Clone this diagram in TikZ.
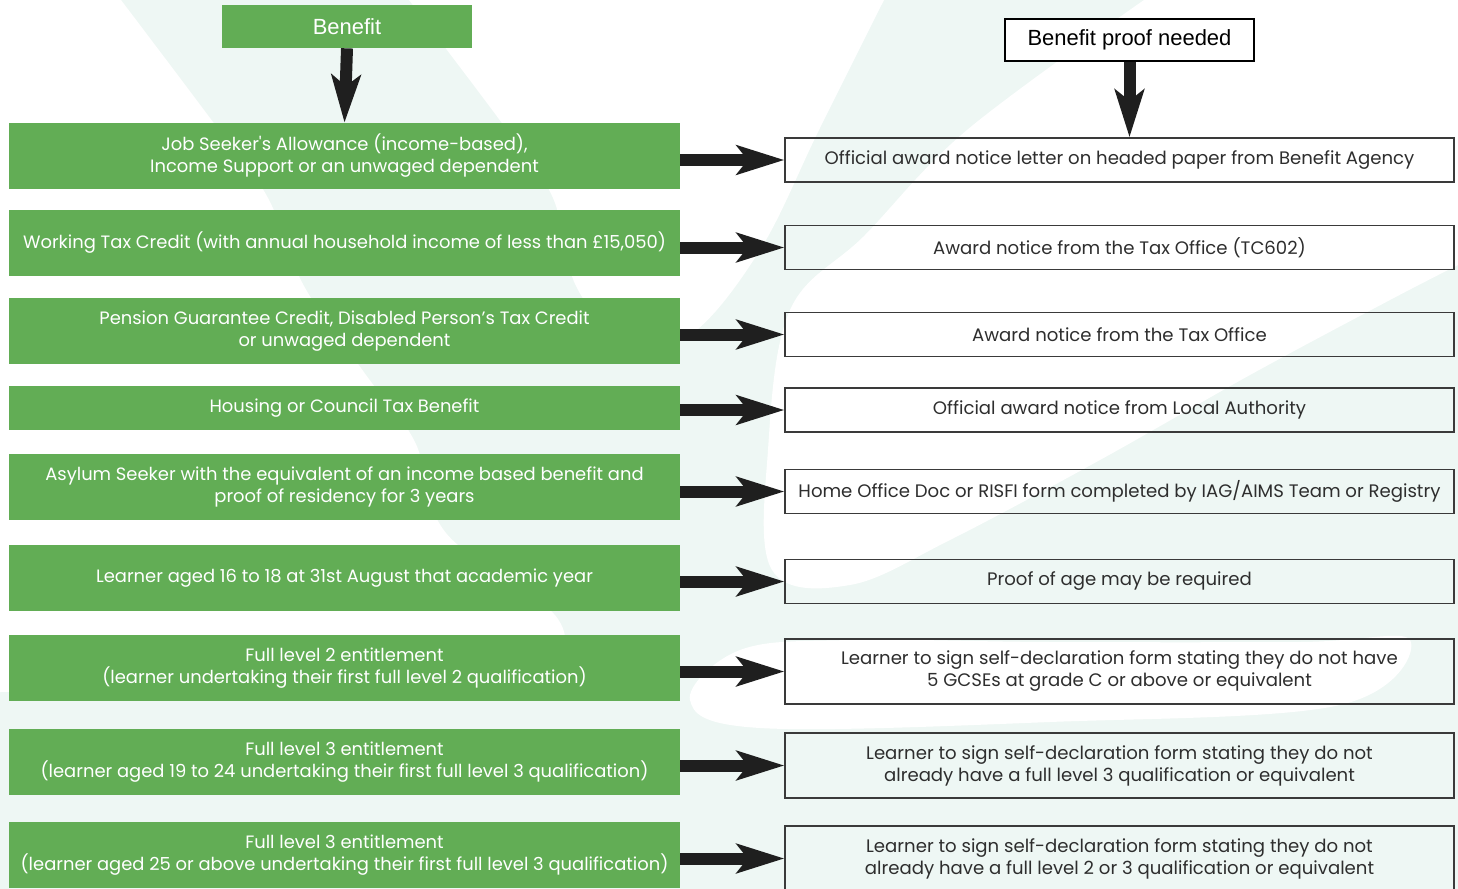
\documentclass[tikz,border=0pt]{standalone}
\usepackage{fontspec}
\setmainfont{Poppins}[Ligatures=TeXOff]
\newfontfamily\headfont{Liberation Sans}
\usetikzlibrary{arrows.meta}
\definecolor{benefitgreen}{HTML}{62AD55}
\definecolor{wmark}{HTML}{EEF7F4}
\definecolor{boxline}{HTML}{3A3A3A}
\definecolor{prooftext}{HTML}{2E2E2E}

\begin{document}
\begin{tikzpicture}[x=0.02cm, y=-0.02cm,
    greenbox/.style={fill=benefitgreen, text=white, minimum width=13.42cm, minimum height=1.32cm,
        align=center, inner sep=0pt, font=\fontsize{10.2}{12.5}\selectfont},
    proofbox/.style={draw=boxline, line width=0.8pt, minimum width=13.38cm, minimum height=0.88cm,
        align=center, inner sep=0pt, text=prooftext, font=\fontsize{10.3}{12.5}\selectfont},
    bigarrow/.style={draw=black!88, line width=0.24cm,
        -{Stealth[length=0.95cm, width=0.58cm, inset=0.22cm, fill=black!88]}}]
    \useasboundingbox (0,0) rectangle (1458,889);

    % pale logo behind the chart: pale ground, white cut-outs
    \fill[wmark] (0,0) rectangle (1458,889);
    \fill[white] (0,0) -- plot[smooth, tension=0.6] coordinates {(121,0) (219,130) (268,198)
        (304,286) (366,375) (415,442) (446,533) (558,619) (540,675) (420,690)} -- (0,692) -- cycle;
    \fill[white] plot[smooth, tension=0.6] coordinates {(409,0) (507,130) (553,198) (576,286)
        (625,340) (690,335) (760,250) (819,130) (884,0)} -- cycle;
    \fill[white] (1144,0) -- (1458,0) -- plot[smooth, tension=0.6] coordinates {(1458,265)
        (1390,300) (1250,375) (1100,460) (950,540) (850,585) (772,570) (768,450) (790,310)
        (865,235) (967,130) (1144,0)} -- cycle;
    \fill[white] plot[smooth cycle, tension=0.6] coordinates {(690,700) (740,650) (850,640)
        (1050,642) (1300,642) (1410,640) (1340,705) (1050,722) (760,728)};

    % headers
    \node[fill=benefitgreen, text=white, minimum width=5cm, minimum height=0.86cm,
        font=\headfont\fontsize{12.5}{14}\selectfont] (hdrL) at (347,26.5) {Benefit};
    \node[draw=black, fill=white, line width=0.8pt, minimum width=4.98cm, minimum height=0.84cm,
        font=\headfont\fontsize{12.5}{14}\selectfont] (hdrR) at (1129.5,40) {Benefit proof needed};

    % benefits
    \node[greenbox] (b1) at (344.5,156) {Job Seeker's Allowance (income-based),\\Income Support or an unwaged dependent};
    \node[greenbox] (b2) at (344.5,243) {Working Tax Credit (with annual household income of less than £15,050)};
    \node[greenbox] (b3) at (344.5,331) {Pension Guarantee Credit, Disabled Person’s Tax Credit\\or unwaged dependent};
    \node[greenbox, minimum height=0.88cm] (b4) at (344.5,408) {Housing or Council Tax Benefit};
    \node[greenbox] (b5) at (344.5,487) {Asylum Seeker with the equivalent of an income based benefit and\\proof of residency for 3 years};
    \node[greenbox] (b6) at (344.5,578) {Learner aged 16 to 18 at 31st August that academic year};
    \node[greenbox] (b7) at (344.5,668) {Full level 2 entitlement\\(learner undertaking their first full level 2 qualification)};
    \node[greenbox] (b8) at (344.5,762) {Full level 3 entitlement\\(learner aged 19 to 24 undertaking their first full level 3 qualification)};
    \node[greenbox] (b9) at (344.5,855) {Full level 3 entitlement\\(learner aged 25 or above undertaking their first full level 3 qualification)};

    % proofs
    \node[proofbox] (p1) at (1119.5,160) {Official award notice letter on headed paper from Benefit Agency};
    \node[proofbox] (p2) at (1119.5,247.5) {Award notice from the Tax Office (TC602)};
    \node[proofbox] (p3) at (1119.5,334.5) {Award notice from the Tax Office};
    \node[proofbox] (p4) at (1119.5,410) {Official award notice from Local Authority};
    \node[proofbox] (p5) at (1119.5,491.5) {Home Office Doc or RISFI form completed by IAG/AIMS Team or Registry};
    \node[proofbox] (p6) at (1119.5,581.5) {Proof of age may be required};
    \node[proofbox, minimum height=1.3cm] (p7) at (1119.5,671.5) {Learner to sign self-declaration form stating they do not have\\5 GCSEs at grade C or above or equivalent};
    \node[proofbox, minimum height=1.3cm] (p8) at (1119.5,765.5) {Learner to sign self-declaration form stating they do not\\already have a full level 3 qualification or equivalent};
    \node[proofbox, minimum height=1.3cm] (p9) at (1119.5,858.5) {Learner to sign self-declaration form stating they do not\\already have a full level 2 or 3 qualification or equivalent};

    % arrows
    \draw[bigarrow] (hdrL.south) -- (b1.north);
    \draw[bigarrow] (hdrR.south) -- (hdrR.south |- p1.north);
    \foreach \i in {1,...,9}
        \draw[bigarrow] (b\i.east |- p\i.west) -- (p\i.west);
\end{tikzpicture}
\end{document}
